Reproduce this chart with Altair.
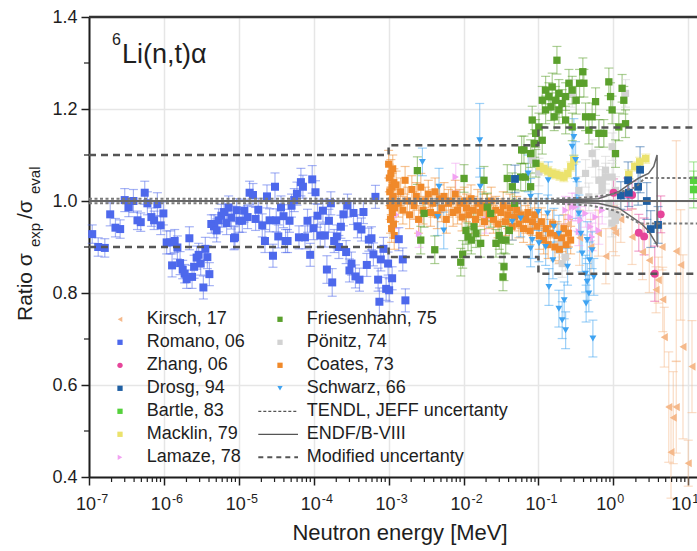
import altair as alt
import pandas as pd

FONT = "Liberation Sans"
INK = "#1e1e1e"

# ---------------- data ----------------
# each entry: (log10 of neutron energy [MeV], ratio sigma_exp/sigma_eval, uncertainty)
kirsch = [(-0.60, 0.95, 0.05), (-0.45, 0.92, 0.06), (-0.30, 0.90, 0.06), (-0.20, 0.93, 0.05),
          (-0.10, 0.88, 0.06), (0.00, 0.94, 0.05), (0.03, 0.931, 0.05), (0.10, 0.96, 0.05),
          (0.25, 0.922, 0.06), (0.39, 0.889, 0.06), (0.48, 0.871, 0.07), (0.57, 0.807, 0.05),
          (0.60, 0.828, 0.05), (0.65, 0.90, 0.05), (0.66, 0.786, 0.07), (0.68, 0.704, 0.065),
          (0.74, 0.552, 0.12), (0.77, 0.454, 0.10), (0.80, 0.529, 0.10), (0.84, 0.552, 0.10),
          (0.84, 0.891, 0.24), (0.90, 0.861, 0.12), (0.93, 0.683, 0.20), (1.00, 0.43, 0.05),
          (1.05, 0.64, 0.10)]

romano = [(-6.957, 0.928, 0.02), (-6.877, 0.900, 0.02), (-6.789, 0.898, 0.02), (-6.717, 0.971, 0.025),
          (-6.647, 0.942, 0.02), (-6.584, 0.939, 0.02), (-6.523, 1.002, 0.025), (-6.469, 0.986, 0.02),
          (-6.407, 1.000, 0.025), (-6.353, 0.958, 0.02), (-6.309, 0.954, 0.02), (-6.256, 1.018, 0.025),
          (-6.220, 0.995, 0.025), (-6.167, 0.965, 0.02), (-6.131, 0.958, 0.02), (-6.087, 0.993, 0.025),
          (-6.043, 0.947, 0.02), (-6.007, 0.973, 0.025), (-5.963, 0.910, 0.025), (-5.917, 0.910, 0.025),
          (-5.891, 0.860, 0.025), (-5.856, 0.913, 0.025), (-5.820, 0.899, 0.025), (-5.784, 0.865, 0.025),
          (-5.749, 0.851, 0.02), (-5.723, 0.842, 0.02), (-5.696, 0.830, 0.02), (-5.660, 0.919, 0.025),
          (-5.624, 0.835, 0.025), (-5.597, 0.857, 0.025), (-5.563, 0.877, 0.025), (-5.536, 0.883, 0.025),
          (-5.509, 0.864, 0.025), (-5.473, 0.812, 0.025), (-5.447, 0.896, 0.025), (-5.420, 0.878, 0.025),
          (-5.393, 0.841, 0.025), (-5.367, 0.950, 0.02), (-5.331, 0.945, 0.025), (-5.296, 0.936, 0.025),
          (-5.269, 0.958, 0.025), (-5.233, 0.968, 0.025), (-5.197, 0.976, 0.025), (-5.163, 0.952, 0.025),
          (-5.136, 0.986, 0.025), (-5.100, 0.964, 0.025), (-5.064, 0.919, 0.025), (-5.051, 0.921, 0.025),
          (-5.029, 0.980, 0.025), (-4.993, 0.957, 0.025), (-4.953, 0.957, 0.025), (-4.927, 0.979, 0.025),
          (-4.883, 0.965, 0.025), (-4.856, 1.018, 0.025), (-4.811, 1.013, 0.025), (-4.776, 0.961, 0.025),
          (-4.740, 0.981, 0.025), (-4.687, 0.947, 0.025), (-4.651, 0.913, 0.025), (-4.624, 1.010, 0.025),
          (-4.589, 0.958, 0.025), (-4.544, 0.881, 0.025), (-4.517, 1.031, 0.03), (-4.500, 0.958, 0.025),
          (-4.473, 0.923, 0.025), (-4.437, 0.986, 0.025), (-4.403, 0.967, 0.025), (-4.376, 0.913, 0.025),
          (-4.349, 0.913, 0.025), (-4.323, 0.957, 0.025), (-4.296, 0.990, 0.025), (-4.260, 1.002, 0.025),
          (-4.224, 1.016, 0.025), (-4.197, 0.921, 0.025), (-4.171, 1.041, 0.03), (-4.144, 1.031, 0.025),
          (-4.117, 0.921, 0.025), (-4.083, 0.957, 0.025), (-4.047, 0.883, 0.025), (-4.020, 1.047, 0.03),
          (-4.003, 0.941, 0.025), (-3.976, 1.019, 0.025), (-3.949, 0.968, 0.025), (-3.913, 0.925, 0.025),
          (-3.877, 0.979, 0.025), (-3.851, 0.925, 0.025), (-3.824, 0.851, 0.03), (-3.797, 0.957, 0.025),
          (-3.771, 0.995, 0.025), (-3.753, 0.823, 0.03), (-3.727, 0.913, 0.025), (-3.691, 0.923, 0.025),
          (-3.664, 0.900, 0.025), (-3.637, 0.944, 0.025), (-3.603, 0.971, 0.025), (-3.567, 0.889, 0.025),
          (-3.549, 0.990, 0.025), (-3.523, 0.849, 0.025), (-3.496, 0.864, 0.025), (-3.469, 0.974, 0.025),
          (-3.443, 0.836, 0.025), (-3.416, 0.945, 0.025), (-3.389, 0.829, 0.025), (-3.363, 0.938, 0.025),
          (-3.336, 0.976, 0.025), (-3.291, 0.861, 0.025), (-3.264, 0.916, 0.025), (-3.229, 0.919, 0.025),
          (-3.203, 0.884, 0.025), (-3.176, 1.009, 0.025), (-3.140, 0.829, 0.025), (-3.123, 0.781, 0.03),
          (-3.104, 0.873, 0.025), (-3.069, 0.896, 0.025), (-3.033, 0.809, 0.025), (-3.007, 0.864, 0.025),
          (-2.993, 0.806, 0.025), (-2.953, 0.832, 0.025), (-2.864, 0.917, 0.025), (-2.811, 0.873, 0.025),
          (-2.776, 0.784, 0.025)]

zhang = [(0.003, 1.018, 0.03), (0.189, 1.015, 0.035), (0.251, 1.013, 0.03), (0.340, 0.931, 0.04),
         (0.411, 0.923, 0.04), (0.553, 0.842, 0.06), (0.633, 0.971, 0.04)]

drosg = [(-1.313, 1.048, 0.03), (0.100, 1.012, 0.03), (0.197, 1.045, 0.04), (0.207, 1.018, 0.03),
         (0.331, 1.031, 0.04), (0.357, 1.068, 0.05), (0.447, 1.000, 0.04), (0.500, 0.939, 0.04),
         (0.597, 0.948, 0.04)]

bartle = [(1.073, 1.045, 0.04), (1.073, 1.025, 0.04)]

macklin = [(-0.980, 1.075, 0.01), (-0.927, 1.070, 0.01), (-0.873, 1.065, 0.01), (-0.820, 1.060, 0.01),
           (-0.767, 1.058, 0.01), (-0.713, 1.055, 0.01), (-0.660, 1.052, 0.01), (-0.607, 1.060, 0.01),
           (-0.567, 1.075, 0.01), (-0.527, 1.090, 0.01), (0.207, 1.058, 0.01), (0.287, 1.075, 0.01),
           (0.353, 1.085, 0.01), (0.433, 1.092, 0.01)]

lamaze = [(-2.900, 0.970, 0.03), (-2.593, 0.929, 0.03), (-2.104, 1.052, 0.03), (-1.700, 0.960, 0.03),
          (-0.637, 0.980, 0.03), (-0.571, 0.965, 0.03), (-0.549, 0.987, 0.03), (-0.504, 0.987, 0.03),
          (-0.460, 0.933, 0.03), (-0.438, 0.958, 0.03), (-0.371, 0.973, 0.03), (-0.304, 0.944, 0.03),
          (-0.283, 0.922, 0.03), (-0.237, 0.965, 0.03), (-0.193, 0.936, 0.03), (-0.149, 0.980, 0.03)]

friesenhahn = [(-2.616, 1.066, 0.03), (-2.571, 0.915, 0.03), (-2.527, 0.973, 0.03), (-2.384, 0.894, 0.03),
               (-2.037, 0.867, 0.03), (-2.011, 0.884, 0.03), (-1.993, 1.049, 0.03), (-1.967, 0.936, 0.03),
               (-1.940, 0.922, 0.03), (-1.896, 0.915, 0.03), (-1.860, 0.944, 0.03), (-1.833, 0.929, 0.03),
               (-1.771, 0.908, 0.03), (-1.727, 1.045, 0.03), (-1.683, 0.987, 0.03), (-1.637, 0.973, 0.03),
               (-1.567, 0.908, 0.03), (-1.523, 0.925, 0.03), (-1.496, 0.915, 0.03), (-1.473, 0.835, 0.03),
               (-1.460, 0.857, 0.03), (-1.437, 0.915, 0.03), (-1.416, 1.049, 0.03), (-1.389, 0.936, 0.03),
               (-1.349, 1.031, 0.03), (-1.317, 0.995, 0.03), (-1.237, 1.052, 0.03), (-1.224, 1.111, 0.03),
               (-1.193, 1.111, 0.03), (-1.171, 1.052, 0.03), (-1.104, 1.031, 0.03), (-1.104, 1.103, 0.03),
               (-1.083, 1.176, 0.03), (-1.051, 1.125, 0.03), (-1.037, 1.147, 0.03), (-1.033, 1.082, 0.03),
               (-0.993, 1.161, 0.03), (-0.949, 1.132, 0.03), (-0.949, 1.219, 0.03), (-0.904, 1.198, 0.03),
               (-0.904, 1.241, 0.03), (-0.860, 1.227, 0.03), (-0.833, 1.205, 0.03), (-0.816, 1.248, 0.03),
               (-0.789, 1.183, 0.03), (-0.771, 1.219, 0.03), (-0.753, 1.306, 0.03), (-0.727, 1.198, 0.03),
               (-0.727, 1.234, 0.03), (-0.683, 1.212, 0.03), (-0.637, 1.176, 0.03), (-0.637, 1.227, 0.03),
               (-0.593, 1.256, 0.03), (-0.549, 1.161, 0.03), (-0.549, 1.241, 0.03), (-0.496, 1.219, 0.03),
               (-0.451, 1.256, 0.03), (-0.407, 1.281, 0.03), (-0.393, 1.256, 0.03), (-0.371, 1.183, 0.03),
               (-0.327, 1.154, 0.03), (-0.283, 1.183, 0.03), (-0.237, 1.216, 0.03), (-0.193, 1.147, 0.03),
               (-0.127, 1.147, 0.03), (-0.060, 1.259, 0.03), (-0.037, 1.227, 0.03), (-0.016, 1.198, 0.03),
               (0.029, 1.103, 0.03), (0.073, 1.161, 0.03), (0.117, 1.245, 0.03), (0.140, 1.219, 0.03),
               (0.163, 1.168, 0.03)]

ponitz = [(-1.083, 1.089, 0.03), (-0.993, 1.063, 0.03), (-0.727, 0.893, 0.03), (-0.690, 0.908, 0.03),
          (-0.683, 0.864, 0.03), (-0.637, 0.878, 0.03), (-0.549, 1.234, 0.03), (-0.460, 1.023, 0.03),
          (-0.371, 1.060, 0.03), (-0.327, 1.009, 0.03), (-0.283, 1.103, 0.03), (-0.237, 1.082, 0.03),
          (-0.193, 1.147, 0.03), (-0.193, 1.045, 0.03), (-0.150, 1.038, 0.03), (-0.149, 1.023, 0.03),
          (-0.104, 1.067, 0.03), (-0.104, 1.052, 0.03), (-0.060, 0.995, 0.03), (-0.020, 0.952, 0.03),
          (-0.016, 1.118, 0.03), (-0.016, 1.052, 0.03), (-0.016, 0.973, 0.03), (0.029, 1.023, 0.03),
          (0.029, 0.958, 0.03), (0.050, 0.970, 0.03), (0.163, 1.234, 0.03)]

coates = [(-3.000, 1.080, 0.03), (-2.990, 1.050, 0.03), (-2.985, 1.020, 0.03), (-2.980, 0.990, 0.03),
          (-2.975, 0.960, 0.03), (-2.970, 1.060, 0.03), (-2.965, 1.000, 0.03), (-2.960, 0.940, 0.03),
          (-2.955, 1.030, 0.03), (-2.950, 0.975, 0.03), (-2.945, 1.070, 0.03), (-2.940, 1.010, 0.03),
          (-2.935, 0.950, 0.03), (-2.930, 1.040, 0.03), (-2.925, 0.925, 0.03), (-2.920, 0.985, 0.03),
          (-2.900, 1.035, 0.03), (-2.870, 0.995, 0.03), (-2.840, 1.020, 0.03), (-2.810, 0.980, 0.03),
          (-2.780, 1.045, 0.03), (-2.750, 1.000, 0.03), (-2.720, 0.970, 0.03), (-2.690, 1.025, 0.03),
          (-2.660, 0.990, 0.03), (-2.630, 1.010, 0.03), (-2.600, 0.960, 0.03), (-2.570, 1.030, 0.03),
          (-2.540, 0.980, 0.03), (-2.510, 1.000, 0.03), (-2.470, 1.015, 0.03), (-2.440, 0.975, 0.03),
          (-2.410, 0.995, 0.03), (-2.380, 1.020, 0.03), (-2.350, 0.970, 0.03), (-2.320, 1.005, 0.03),
          (-2.290, 0.985, 0.03), (-2.260, 1.010, 0.03), (-2.230, 0.960, 0.03), (-2.200, 0.995, 0.03),
          (-2.170, 1.000, 0.03), (-2.140, 0.975, 0.03), (-2.110, 1.015, 0.03), (-2.080, 0.980, 0.03),
          (-2.050, 0.995, 0.03), (-2.020, 0.965, 0.03), (-1.990, 1.000, 0.03), (-1.960, 0.985, 0.03),
          (-1.930, 0.970, 0.03), (-1.900, 1.005, 0.03), (-1.870, 0.980, 0.03), (-1.840, 0.960, 0.03),
          (-1.810, 0.995, 0.03), (-1.780, 0.975, 0.03), (-1.750, 0.990, 0.03), (-1.720, 0.955, 0.03),
          (-1.690, 0.985, 0.03), (-1.660, 0.970, 0.03), (-1.630, 1.000, 0.03), (-1.600, 0.960, 0.03),
          (-1.570, 0.980, 0.03), (-1.540, 0.950, 0.03), (-1.500, 0.975, 0.03), (-1.470, 0.990, 0.03),
          (-1.440, 0.955, 0.03), (-1.410, 0.970, 0.03), (-1.380, 0.985, 0.03), (-1.350, 0.945, 0.03),
          (-1.320, 0.965, 0.03), (-1.290, 0.980, 0.03), (-1.260, 0.950, 0.03), (-1.230, 0.970, 0.03),
          (-1.200, 0.940, 0.03), (-1.170, 0.960, 0.03), (-1.140, 0.975, 0.03), (-1.110, 0.935, 0.03),
          (-1.080, 0.955, 0.03), (-1.050, 0.970, 0.03), (-1.020, 0.945, 0.03), (-0.990, 0.925, 0.03),
          (-0.960, 0.955, 0.03), (-0.930, 0.915, 0.03), (-0.900, 0.940, 0.03), (-0.870, 0.905, 0.03),
          (-0.840, 0.930, 0.03), (-0.810, 0.950, 0.03), (-0.780, 0.900, 0.03), (-0.750, 0.925, 0.03),
          (-0.720, 0.895, 0.03), (-0.690, 0.920, 0.03), (-0.660, 0.940, 0.03), (-0.630, 0.905, 0.03),
          (-0.600, 0.930, 0.03), (-0.570, 0.915, 0.03)]

schwarz = [(-2.549, 1.085, 0.03), (-2.344, 0.965, 0.04), (-2.327, 1.031, 0.04), (-2.264, 0.936, 0.04),
           (-1.784, 1.132, 0.08), (-1.776, 1.031, 0.04), (-1.349, 0.955, 0.04), (-1.237, 0.962, 0.04),
           (-1.136, 1.060, 0.04), (-1.104, 1.009, 0.04), (-1.104, 0.897, 0.04), (-1.083, 0.915, 0.04),
           (-1.003, 0.976, 0.04), (-0.993, 0.908, 0.04), (-0.904, 0.900, 0.04), (-0.877, 0.973, 0.04),
           (-0.869, 1.045, 0.04), (-0.860, 0.813, 0.04), (-0.807, 0.871, 0.04), (-0.793, 0.944, 0.04),
           (-0.727, 0.929, 0.04), (-0.727, 0.766, 0.04), (-0.683, 0.741, 0.04), (-0.656, 0.784, 0.04),
           (-0.637, 0.719, 0.04), (-0.611, 0.857, 0.04), (-0.549, 1.118, 0.04), (-0.527, 1.139, 0.04),
           (-0.504, 1.089, 0.04), (-0.496, 1.045, 0.04), (-0.483, 1.002, 0.04), (-0.460, 0.973, 0.04),
           (-0.433, 0.929, 0.04), (-0.416, 0.886, 0.04), (-0.371, 0.842, 0.04), (-0.363, 0.777, 0.04),
           (-0.349, 0.915, 0.04), (-0.349, 0.824, 0.04), (-0.327, 0.799, 0.04), (-0.317, 0.871, 0.04),
           (-0.283, 0.893, 0.04), (-0.273, 0.701, 0.04), (-0.260, 0.835, 0.04)]

# evaluation / uncertainty curves: (log10 E, ratio)
modified_upper = [(-7.0, 1.100), (-3.0, 1.100), (-3.0, 1.121), (-1.0, 1.121), (-1.0, 1.160), (1.117, 1.160)]
modified_lower = [(-7.0, 0.900), (-3.0, 0.900), (-3.0, 0.878), (-1.0, 0.878), (-1.0, 0.842), (1.117, 0.842)]
tendl_upper = [(-7.0, 1.005), (-0.8, 1.005), (-0.3, 1.008), (0.0, 1.015), (0.3, 1.030), (0.42, 1.050), (1.117, 1.050)]
tendl_lower = [(-7.0, 0.995), (-0.8, 0.995), (-0.3, 0.990), (0.0, 0.980), (0.25, 0.960), (0.35, 0.951), (1.117, 0.951)]
endf_central = [(-7.0, 1.000), (1.117, 1.000)]
endf_band = [(-0.8, 1.002), (-0.2, 1.005), (0.07, 1.020), (0.2, 1.035), (0.34, 1.050), (0.47, 1.060),
             (0.54, 1.075), (0.584, 1.100), (0.584, 0.904), (0.563, 0.910), (0.47, 0.935), (0.38, 0.950),
             (0.25, 0.965), (0.07, 0.985), (-0.2, 0.995), (-0.8, 0.998)]

legend_labels = ["Kirsch, 17", "Romano, 06", "Zhang, 06", "Drosg, 94", "Bartle, 83", "Macklin, 79",
                 "Lamaze, 78", "Friesenhahn, 75", "Pönitz, 74", "Coates, 73", "Schwarz, 66"]
line_labels = ["TENDL, JEFF uncertanty", "ENDF/B-VIII", "Modified uncertanty"]
x_exponents = [-7, -6, -5, -4, -3, -2, -1, 0, 1]
y_ticks = [0.4, 0.6, 0.8, 1.0, 1.2, 1.4]
y_minor = [0.5, 0.7, 0.9, 1.1, 1.3]

# ---------------- styling ----------------
series_data = {"Kirsch, 17": kirsch, "Romano, 06": romano, "Zhang, 06": zhang, "Drosg, 94": drosg,
               "Bartle, 83": bartle, "Macklin, 79": macklin, "Lamaze, 78": lamaze,
               "Friesenhahn, 75": friesenhahn, "Pönitz, 74": ponitz, "Coates, 73": coates,
               "Schwarz, 66": schwarz}
colors = {"Kirsch, 17": "#f5b98b", "Romano, 06": "#4d68ec", "Zhang, 06": "#e6459a", "Drosg, 94": "#1f5fa3",
          "Bartle, 83": "#55d13c", "Macklin, 79": "#ebe26c", "Lamaze, 78": "#f2a2f2",
          "Friesenhahn, 75": "#5aa02c", "Pönitz, 74": "#d2d2d2", "Coates, 73": "#f0892a",
          "Schwarz, 66": "#3ea3f2"}
shapes = {"Kirsch, 17": "triangle-left", "Romano, 06": "square", "Zhang, 06": "circle", "Drosg, 94": "square",
          "Bartle, 83": "square", "Macklin, 79": "square", "Lamaze, 78": "triangle-right",
          "Friesenhahn, 75": "square", "Pönitz, 74": "square", "Coates, 73": "square",
          "Schwarz, 66": "triangle-down"}
sizes = {"square": 48, "circle": 58, "triangle-left": 66, "triangle-right": 66, "triangle-down": 72}
draw_order = ["Kirsch, 17", "Lamaze, 78", "Pönitz, 74", "Macklin, 79", "Coates, 73", "Friesenhahn, 75",
              "Schwarz, 66", "Romano, 06", "Zhang, 06", "Drosg, 94", "Bartle, 83"]

W, H = 608, 460
XMIN, XMAX = 1e-7, 10 ** 1.117

rows = []
for s in draw_order:
    for le, r, e in series_data[s]:
        rows.append({"series": s, "E": 10 ** le, "ratio": r, "lo": r - e, "hi": r + e})
pts = pd.DataFrame(rows)

color_scale = alt.Scale(domain=legend_labels, range=[colors[s] for s in legend_labels])
shape_scale = alt.Scale(domain=legend_labels, range=[shapes[s] for s in legend_labels])
size_scale = alt.Scale(domain=legend_labels, range=[sizes[shapes[s]] for s in legend_labels])

xscale = alt.Scale(type="log", domain=[XMIN, XMAX], nice=False)
yscale = alt.Scale(domain=[0.4, 1.4], nice=False, zero=False)

X = alt.X("E:Q", scale=xscale,
          axis=alt.Axis(values=[10.0 ** k for k in x_exponents], labels=False, title=None,
                        tickSize=8, tickWidth=1.5, tickColor=INK, domainColor=INK, domainWidth=2,
                        grid=True, gridColor="#e6e6e6", gridWidth=1.5))
Y = alt.Y("ratio:Q", scale=yscale,
          axis=alt.Axis(values=y_ticks, format=".1f", title=None, labelFont=FONT, labelFontSize=18,
                        labelColor=INK, labelPadding=4, tickSize=8, tickWidth=1.5, tickColor=INK,
                        domainColor=INK, domainWidth=2, grid=True, gridColor="#e6e6e6", gridWidth=1.5))

base = alt.Chart(pts)
err = base.mark_rule(strokeWidth=1.2, opacity=0.5).encode(
    x=X, y=alt.Y("lo:Q", scale=yscale), y2="hi:Q",
    color=alt.Color("series:N", scale=color_scale, legend=None))
cap_lo = base.mark_tick(orient="horizontal", size=9, thickness=1.2, opacity=0.5).encode(
    x=X, y=alt.Y("lo:Q", scale=yscale), color=alt.Color("series:N", scale=color_scale, legend=None))
cap_hi = base.mark_tick(orient="horizontal", size=9, thickness=1.2, opacity=0.5).encode(
    x=X, y=alt.Y("hi:Q", scale=yscale), color=alt.Color("series:N", scale=color_scale, legend=None))
points = base.mark_point(filled=True, opacity=1).encode(
    x=X, y=Y,
    color=alt.Color("series:N", scale=color_scale, legend=None),
    shape=alt.Shape("series:N", scale=shape_scale, legend=None),
    size=alt.Size("series:N", scale=size_scale, legend=None))


def curve_df(parts):
    out = []
    for name, seq in parts.items():
        for i, (le, r) in enumerate(seq):
            out.append({"part": name, "i": i, "E": 10 ** le, "ratio": r})
    return pd.DataFrame(out)


def curve(parts, **kw):
    return alt.Chart(curve_df(parts)).mark_line(clip=True, **kw).encode(
        x=alt.X("E:Q", scale=xscale), y=alt.Y("ratio:Q", scale=yscale),
        detail="part:N", order="i:Q")


endf_c = curve({"c": endf_central}, color="#666666", strokeWidth=2)
endf_b = curve({"b": endf_band}, color="#666666", strokeWidth=1.5)
tendl = curve({"u": tendl_upper, "l": tendl_lower}, color="#7a7a7a", strokeWidth=2, strokeDash=[3, 2.5])
modified = curve({"u": modified_upper, "l": modified_lower}, color="#555555", strokeWidth=2.5,
                 strokeDash=[7, 5])

# minor ticks and frame
minor_x = [m * 10.0 ** k for k in range(-7, 1) for m in range(2, 10)]
xminor = alt.Chart(pd.DataFrame({"E": minor_x})).mark_rule(color=INK, strokeWidth=1.2).encode(
    x=alt.X("E:Q", scale=xscale), y=alt.value(H), y2=alt.value(H + 5))
yminor = alt.Chart(pd.DataFrame({"ratio": y_minor})).mark_rule(color=INK, strokeWidth=1.2).encode(
    y=alt.Y("ratio:Q", scale=yscale), x=alt.value(-5), x2=alt.value(0))
one = pd.DataFrame({"a": [0]})
top = alt.Chart(one).mark_rule(color="#333333", strokeWidth=2.5).encode(
    x=alt.value(0), x2=alt.value(W), y=alt.value(0))

# x tick labels as 10^n
neg = pd.DataFrame({"E": [10.0 ** k for k in x_exponents if k < 0],
                    "p": [str(k) for k in x_exponents if k < 0]})
pos = pd.DataFrame({"E": [10.0 ** k for k in x_exponents if k >= 0],
                    "p": [str(k) for k in x_exponents if k >= 0]})
lab = []
for df, d_ten, d_exp in [(neg, 7, 8), (pos, 3, 4)]:
    lab.append(alt.Chart(df).mark_text(font=FONT, fontSize=18, color=INK, align="right",
                                       baseline="alphabetic", dx=d_ten).encode(
        x=alt.X("E:Q", scale=xscale), y=alt.value(H + 33), text=alt.value("10")))
    lab.append(alt.Chart(df).mark_text(font=FONT, fontSize=12.5, color=INK, align="left",
                                       baseline="alphabetic", dx=d_exp).encode(
        x=alt.X("E:Q", scale=xscale), y=alt.value(H + 26), text="p:N"))


def txt(s, x, y, size, angle=0, align="left", baseline="alphabetic"):
    kw = dict(font=FONT, fontSize=size, color=INK, align=align, baseline=baseline)
    if angle:
        kw["angle"] = angle
    return alt.Chart(one).mark_text(**kw).encode(x=alt.value(x), y=alt.value(y), text=alt.value(s))


texts = [
    txt("Neutron energy [MeV]", 311, H + 63, 22, align="center"),
    txt("Ratio σ", -57, 304, 21, angle=270),
    txt("exp", -49, 230, 15, angle=270),
    txt("/σ", -57, 202, 21, angle=270),
    txt("eval", -49, 177, 15, angle=270),
    txt("6", 23, 28, 16),
    txt("Li(n,t)α", 33, 46, 27),
]

# legend
ROW0, STEP = 302.3, 23
leg_rows = []
for i, s in enumerate(legend_labels):
    col = 0 if i < 7 else 1
    r = i if i < 7 else i - 7
    leg_rows.append({"series": s, "sx": 31 if col == 0 else 191, "tx": 57.7 if col == 0 else 217.7,
                     "py": ROW0 + STEP * r})
leg = pd.DataFrame(leg_rows)
leg_sym = alt.Chart(leg).mark_point(filled=True, opacity=1, size=28).encode(
    x=alt.X("sx:Q", scale=None), y=alt.Y("py:Q", scale=None),
    color=alt.Color("series:N", scale=color_scale, legend=None),
    shape=alt.Shape("series:N", scale=shape_scale, legend=None))
leg_txt = alt.Chart(leg).mark_text(font=FONT, fontSize=18, color=INK, align="left", baseline="middle").encode(
    x=alt.X("tx:Q", scale=None), y=alt.Y("py:Q", scale=None), text="series:N")
line_styles = [dict(strokeDash=[3, 2], strokeWidth=1.2), dict(strokeWidth=1.2),
               dict(strokeDash=[5, 4], strokeWidth=2)]
leg_lines = []
for j, (lbl, st) in enumerate(zip(line_labels, line_styles)):
    yy = ROW0 + STEP * (4 + j)
    leg_lines.append(alt.Chart(one).mark_rule(color="#555555", **st).encode(
        x=alt.value(169.3), x2=alt.value(209), y=alt.value(yy)))
    leg_lines.append(txt(lbl, 217.7, yy, 18, baseline="middle"))

chart = alt.layer(
    err, cap_lo, cap_hi, points, endf_c, endf_b, tendl, modified, xminor, yminor, top,
    *lab, *texts, leg_sym, leg_txt, *leg_lines
).properties(
    width=W, height=H, autosize=alt.AutoSizeParams(type="none"),
    padding={"left": 89, "top": 17, "right": 0, "bottom": 74}, background="white"
).configure_view(stroke=None)

chart.save("out.html", embed_options={"renderer": "svg", "actions": False})
